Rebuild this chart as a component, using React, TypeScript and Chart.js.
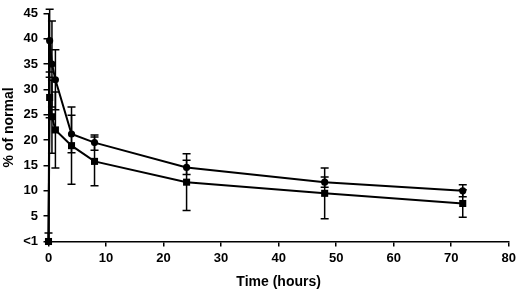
import React, { useEffect, useRef } from "react";
import { Chart, registerables } from "chart.js";

Chart.register(...registerables);

const times = [0, 0.2, 0.6, 1.2, 4, 8, 24, 48, 72];
const circleValues = [0, 39.6, 35.0, 31.9, 21.2, 19.5, 14.6, 11.7, 10.0];
const circleErrors = [0, 6.2, 8.5, 5.9, 3.7, 1.5, 1.4, 1.0, 1.2];
const squareValues = [0, 28.4, 24.6, 22.0, 18.9, 15.8, 11.7, 9.5, 7.5];
const squareErrors = [1.7, 4.0, 7.2, 7.5, 7.6, 4.8, 5.6, 5.0, 2.7];
const yTickLabels: Record<number, string> = { 0: "<1" };

const FONT = "'Liberation Sans', Arial, sans-serif";

const errorBarPlugin = {
  id: "errorBars",
  beforeDatasetsDraw(chart: any) {
    const ctx = chart.ctx;
    const xs = chart.scales.x;
    const ys = chart.scales.y;
    ctx.save();
    ctx.strokeStyle = "#000";
    ctx.lineWidth = 1.5;
    chart.data.datasets.forEach((ds: any) => {
      const errs: number[] = ds.errors || [];
      ds.data.forEach((p: any, i: number) => {
        const e = errs[i] || 0;
        if (!e) return;
        const x = xs.getPixelForValue(p.x);
        const yHi = ys.getPixelForValue(p.y + e);
        const yLo = ys.getPixelForValue(Math.max(0, p.y - e));
        const cap = 4;
        ctx.beginPath();
        ctx.moveTo(x, yHi);
        ctx.lineTo(x, yLo);
        ctx.moveTo(x - cap, yHi);
        ctx.lineTo(x + cap, yHi);
        if (p.y - e > 0) {
          ctx.moveTo(x - cap, yLo);
          ctx.lineTo(x + cap, yLo);
        }
        ctx.stroke();
      });
    });
    ctx.restore();
  },
};

export default function App() {
  const ref = useRef<HTMLCanvasElement>(null);
  useEffect(() => {
    if (!ref.current) return;
    const chart = new Chart(ref.current, {
      type: "line",
      data: {
        datasets: [
          {
            label: "circles",
            data: times.map((t, i) => ({ x: t, y: circleValues[i] })),
            errors: circleErrors,
            borderColor: "#000",
            backgroundColor: "#000",
            borderWidth: 2,
            pointStyle: "circle",
            pointRadius: 3.6,
            pointBorderWidth: 0,
            clip: false,
          } as any,
          {
            label: "squares",
            data: times.map((t, i) => ({ x: t, y: squareValues[i] })),
            errors: squareErrors,
            borderColor: "#000",
            backgroundColor: "#000",
            borderWidth: 2,
            pointStyle: "rect",
            pointRadius: 5,
            pointBorderWidth: 0,
            clip: false,
          } as any,
        ],
      },
      options: {
        animation: false,
        responsive: false,
        layout: { padding: { top: 9.5, right: 8.5, left: 0, bottom: 0 } },
        plugins: { legend: { display: false }, tooltip: { enabled: false } },
        scales: {
          x: {
            type: "linear",
            min: 0,
            max: 80,
            afterFit: (s: any) => {
              s.height = 47.5;
            },
            ticks: {
              stepSize: 10,
              color: "#000",
              padding: 4,
              font: { family: FONT, size: 13, weight: "bold" },
            },
            grid: {
              display: true,
              drawOnChartArea: false,
              drawTicks: true,
              tickLength: 5,
              color: "#000",
              lineWidth: 1.5,
            },
            border: { display: true, color: "#000", width: 1.5 },
            title: {
              display: true,
              text: "Time (hours)",
              color: "#000",
              padding: { top: 0, bottom: 0 },
              font: { family: FONT, size: 14, weight: "bold", lineHeight: 1 },
            },
          },
          y: {
            type: "linear",
            min: 0,
            max: 45,
            afterFit: (s: any) => {
              s.width = 48.5;
            },
            ticks: {
              stepSize: 5,
              color: "#000",
              padding: 5.5,
              font: { family: FONT, size: 13, weight: "bold" },
              callback: (v: any) => (yTickLabels[v] !== undefined ? yTickLabels[v] : String(v)),
            },
            grid: {
              display: true,
              drawOnChartArea: false,
              drawTicks: true,
              tickLength: 5,
              color: "#000",
              lineWidth: 1.5,
            },
            border: { display: true, color: "#000", width: 1.5 },
            title: {
              display: true,
              text: "% of normal",
              color: "#000",
              padding: { top: 2, bottom: 0 },
              font: { family: FONT, size: 14, weight: "bold", lineHeight: 1 },
            },
          },
        },
      },
      plugins: [errorBarPlugin],
    });
    return () => chart.destroy();
  }, []);
  return (
    <div style={{ position: "fixed", left: 0, top: 0, width: 520, height: 289, background: "#fff" }}>
      <canvas ref={ref} width={520} height={289} />
    </div>
  );
}
